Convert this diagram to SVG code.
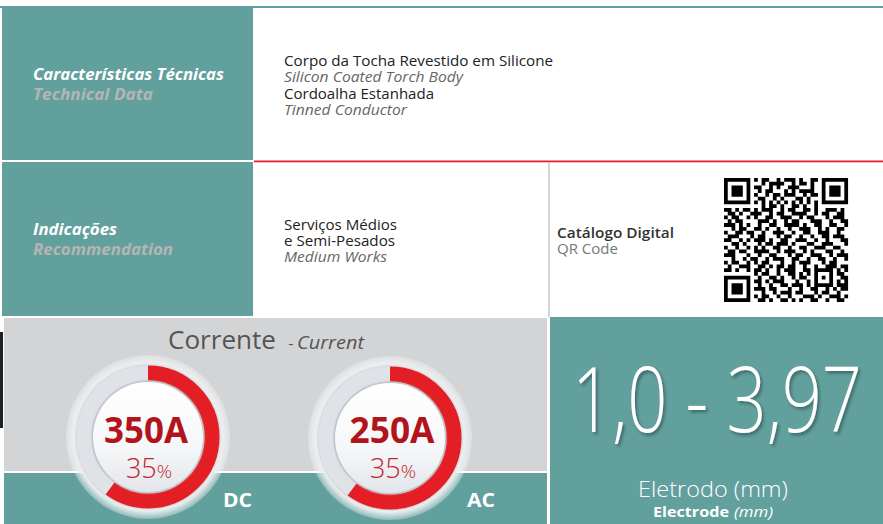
<svg xmlns="http://www.w3.org/2000/svg" width="883" height="524" viewBox="0 0 883 524">
<defs>
<style>
.teal{fill:#62a09e}
.hdr{font-family:"Open Sans","Noto Sans",sans-serif;font-weight:700;font-style:italic;font-size:16px}
.body{font-family:"Open Sans","Noto Sans",sans-serif;font-size:14.5px;fill:#222}
.bodyi{font-family:"Open Sans","Noto Sans",sans-serif;font-size:14.5px;font-style:italic;fill:#666}
.amp{font-family:"Open Sans","Noto Sans",sans-serif;font-weight:700;font-size:36px;fill:#b3141c;text-anchor:middle}
.pct{font-family:"Open Sans","Noto Sans",sans-serif;font-weight:300;font-size:27px;fill:#c0272d;text-anchor:middle}
.lbl{font-family:"Open Sans","Noto Sans",sans-serif;font-weight:700;font-size:19px;fill:#fff}
</style>
<radialGradient id="halo" cx="0.5" cy="0.5" r="0.5">
<stop offset="0.8" stop-color="#d8dadd"/>
<stop offset="0.9" stop-color="#eceef0"/>
<stop offset="1" stop-color="#f4f5f6" stop-opacity="0.3"/>
</radialGradient>
<linearGradient id="inner" x1="0" y1="0" x2="0" y2="1">
<stop offset="0" stop-color="#ffffff"/>
<stop offset="0.6" stop-color="#f6f7f8"/>
<stop offset="1" stop-color="#e2e5ea"/>
</linearGradient>
<filter id="sh" x="-10%" y="-10%" width="120%" height="130%">
<feDropShadow dx="2" dy="2.5" stdDeviation="1.5" flood-color="#23403f" flood-opacity="0.55"/>
</filter>
<filter id="soft" x="-20%" y="-20%" width="140%" height="140%">
<feGaussianBlur stdDeviation="1.2"/>
</filter>
</defs>

<rect width="883" height="524" fill="#ffffff"/>

<g id="row1">
<rect x="0" y="6" width="883" height="2" class="teal"/>
<rect x="2" y="6" width="251" height="154" class="teal"/>
<rect x="254" y="160.5" width="629" height="1.8" fill="#e4202a"/>
<text x="33" y="80" class="hdr" fill="#ffffff" textLength="191" lengthAdjust="spacingAndGlyphs">Características Técnicas</text>
<text x="33" y="100" class="hdr" fill="#b5b5b5" textLength="120" lengthAdjust="spacingAndGlyphs">Technical Data</text>
<text x="284" y="66" class="body" textLength="269" lengthAdjust="spacingAndGlyphs">Corpo da Tocha Revestido em Silicone</text>
<text x="284" y="82" class="bodyi" textLength="179" lengthAdjust="spacingAndGlyphs">Silicon Coated Torch Body</text>
<text x="284" y="99" class="body" textLength="150" lengthAdjust="spacingAndGlyphs">Cordoalha Estanhada</text>
<text x="284" y="115" class="bodyi" textLength="123" lengthAdjust="spacingAndGlyphs">Tinned Conductor</text>
</g>

<g id="row2">
<rect x="2" y="162" width="251" height="154" class="teal"/>
<rect x="548" y="162" width="1.8" height="155" fill="#d0d0d0"/>
<text x="33" y="235" class="hdr" fill="#ffffff" textLength="84" lengthAdjust="spacingAndGlyphs">Indicações</text>
<text x="33" y="255" class="hdr" fill="#b5b5b5" textLength="140" lengthAdjust="spacingAndGlyphs">Recommendation</text>
<text x="284" y="230" class="body" textLength="113" lengthAdjust="spacingAndGlyphs">Serviços Médios</text>
<text x="284" y="246" class="body" textLength="111" lengthAdjust="spacingAndGlyphs">e Semi-Pesados</text>
<text x="284" y="262" class="bodyi" textLength="103" lengthAdjust="spacingAndGlyphs">Medium Works</text>
</g>

<g id="qr-block">
<text x="557" y="238" font-family="'Open Sans','Noto Sans',sans-serif" font-weight="600" font-size="14.5px" fill="#333" textLength="117" lengthAdjust="spacingAndGlyphs">Catálogo Digital</text>
<text x="557" y="254" font-family="'Open Sans','Noto Sans',sans-serif" font-size="14.5px" fill="#777" textLength="61" lengthAdjust="spacingAndGlyphs">QR Code</text>
<g transform="translate(724,178) scale(3.76)">
<path fill="#000" d="M0 0h7v1h-7zM8 0h1v1h-1zM10 0h2v1h-2zM14 0h1v1h-1zM16 0h3v1h-3zM20 0h1v1h-1zM23 0h2v1h-2zM26 0h7v1h-7z
M0 1h1v1h-1zM6 1h1v1h-1zM10 1h1v1h-1zM12 1h4v1h-4zM18 1h1v1h-1zM20 1h2v1h-2zM23 1h1v1h-1zM26 1h1v1h-1zM32 1h1v1h-1z
M0 2h1v1h-1zM2 2h3v1h-3zM6 2h1v1h-1zM8 2h2v1h-2zM12 2h1v1h-1zM14 2h1v1h-1zM17 2h3v1h-3zM23 2h1v1h-1zM26 2h1v1h-1zM28 2h3v1h-3zM32 2h1v1h-1z
M0 3h1v1h-1zM2 3h3v1h-3zM6 3h1v1h-1zM9 3h1v1h-1zM11 3h2v1h-2zM16 3h1v1h-1zM18 3h1v1h-1zM20 3h4v1h-4zM26 3h1v1h-1zM28 3h3v1h-3zM32 3h1v1h-1z
M0 4h1v1h-1zM2 4h3v1h-3zM6 4h1v1h-1zM8 4h1v1h-1zM11 4h1v1h-1zM13 4h2v1h-2zM16 4h3v1h-3zM21 4h1v1h-1zM23 4h2v1h-2zM26 4h1v1h-1zM28 4h3v1h-3zM32 4h1v1h-1z
M0 5h1v1h-1zM6 5h1v1h-1zM9 5h2v1h-2zM13 5h1v1h-1zM15 5h1v1h-1zM19 5h2v1h-2zM22 5h1v1h-1zM26 5h1v1h-1zM32 5h1v1h-1z
M0 6h7v1h-7zM8 6h1v1h-1zM10 6h1v1h-1zM12 6h1v1h-1zM14 6h1v1h-1zM16 6h1v1h-1zM18 6h1v1h-1zM20 6h1v1h-1zM22 6h1v1h-1zM24 6h1v1h-1zM26 6h7v1h-7z
M10 7h1v1h-1zM12 7h2v1h-2zM15 7h1v1h-1zM18 7h2v1h-2zM21 7h1v1h-1zM24 7h1v1h-1z
M0 8h2v1h-2zM3 8h1v1h-1zM5 8h2v1h-2zM8 8h1v1h-1zM10 8h3v1h-3zM15 8h1v1h-1zM17 8h2v1h-2zM21 8h2v1h-2zM24 8h1v1h-1zM27 8h3v1h-3zM31 8h1v1h-1z
M1 9h2v1h-2zM4 9h1v1h-1zM7 9h3v1h-3zM12 9h1v1h-1zM14 9h2v1h-2zM18 9h4v1h-4zM24 9h1v1h-1zM26 9h2v1h-2zM30 9h2v1h-2z
M0 10h1v1h-1zM2 10h2v1h-2zM6 10h1v1h-1zM8 10h1v1h-1zM11 10h2v1h-2zM15 10h3v1h-3zM20 10h1v1h-1zM22 10h2v1h-2zM27 10h1v1h-1zM29 10h3v1h-3z
M1 11h1v1h-1zM3 11h2v1h-2zM9 11h3v1h-3zM13 11h1v1h-1zM16 11h1v1h-1zM18 11h2v1h-2zM23 11h3v1h-3zM28 11h1v1h-1zM31 11h2v1h-2z
M0 12h3v1h-3zM4 12h1v1h-1zM6 12h1v1h-1zM9 12h1v1h-1zM12 12h2v1h-2zM16 12h4v1h-4zM21 12h1v1h-1zM24 12h2v1h-2zM28 12h2v1h-2zM32 12h1v1h-1z
M2 13h1v1h-1zM4 13h2v1h-2zM8 13h2v1h-2zM11 13h1v1h-1zM14 13h1v1h-1zM17 13h1v1h-1zM20 13h3v1h-3zM25 13h1v1h-1zM27 13h1v1h-1zM30 13h2v1h-2z
M0 14h1v1h-1zM3 14h2v1h-2zM6 14h2v1h-2zM10 14h1v1h-1zM13 14h3v1h-3zM18 14h1v1h-1zM21 14h2v1h-2zM25 14h3v1h-3zM30 14h1v1h-1z
M1 15h3v1h-3zM7 15h1v1h-1zM9 15h2v1h-2zM14 15h1v1h-1zM16 15h2v1h-2zM20 15h1v1h-1zM23 15h1v1h-1zM26 15h2v1h-2zM29 15h3v1h-3z
M0 16h2v1h-2zM4 16h1v1h-1zM6 16h1v1h-1zM8 16h3v1h-3zM12 16h1v1h-1zM15 16h2v1h-2zM19 16h3v1h-3zM24 16h1v1h-1zM27 16h1v1h-1zM31 16h2v1h-2z
M2 17h2v1h-2zM5 17h1v1h-1zM9 17h1v1h-1zM11 17h2v1h-2zM14 17h3v1h-3zM18 17h1v1h-1zM22 17h2v1h-2zM26 17h3v1h-3zM32 17h1v1h-1z
M0 18h1v1h-1zM3 18h1v1h-1zM6 18h1v1h-1zM8 18h1v1h-1zM10 18h1v1h-1zM13 18h2v1h-2zM17 18h1v1h-1zM20 18h2v1h-2zM24 18h3v1h-3zM29 18h2v1h-2z
M1 19h2v1h-2zM4 19h2v1h-2zM8 19h4v1h-4zM14 19h1v1h-1zM16 19h3v1h-3zM21 19h1v1h-1zM23 19h1v1h-1zM27 19h2v1h-2zM31 19h1v1h-1z
M0 20h3v1h-3zM6 20h1v1h-1zM9 20h1v1h-1zM12 20h2v1h-2zM17 20h1v1h-1zM19 20h2v1h-2zM23 20h3v1h-3zM28 20h1v1h-1zM30 20h3v1h-3z
M2 21h1v1h-1zM5 21h1v1h-1zM7 21h2v1h-2zM11 21h1v1h-1zM13 21h3v1h-3zM18 21h2v1h-2zM22 21h1v1h-1zM25 21h2v1h-2zM29 21h1v1h-1zM32 21h1v1h-1z
M0 22h1v1h-1zM2 22h2v1h-2zM6 22h1v1h-1zM8 22h1v1h-1zM10 22h2v1h-2zM15 22h1v1h-1zM18 22h1v1h-1zM20 22h3v1h-3zM26 22h1v1h-1zM28 22h2v1h-2z
M1 23h1v1h-1zM4 23h3v1h-3zM9 23h2v1h-2zM12 23h1v1h-1zM14 23h2v1h-2zM17 23h2v1h-2zM21 23h1v1h-1zM24 23h1v1h-1zM27 23h3v1h-3zM31 23h2v1h-2z
M0 24h2v1h-2zM3 24h1v1h-1zM6 24h1v1h-1zM8 24h2v1h-2zM11 24h1v1h-1zM14 24h1v1h-1zM16 24h3v1h-3zM21 24h2v1h-2zM24 24h5v1h-5zM30 24h1v1h-1zM32 24h1v1h-1z
M8 25h1v1h-1zM10 25h2v1h-2zM14 25h1v1h-1zM17 25h2v1h-2zM20 25h1v1h-1zM22 25h1v1h-1zM24 25h1v1h-1zM28 25h1v1h-1zM30 25h2v1h-2z
M0 26h7v1h-7zM9 26h1v1h-1zM12 26h2v1h-2zM15 26h1v1h-1zM18 26h1v1h-1zM20 26h2v1h-2zM24 26h1v1h-1zM26 26h1v1h-1zM28 26h1v1h-1zM31 26h2v1h-2z
M0 27h1v1h-1zM6 27h1v1h-1zM8 27h2v1h-2zM11 27h1v1h-1zM13 27h3v1h-3zM19 27h1v1h-1zM22 27h1v1h-1zM24 27h1v1h-1zM28 27h1v1h-1zM30 27h1v1h-1zM32 27h1v1h-1z
M0 28h1v1h-1zM2 28h3v1h-3zM6 28h1v1h-1zM9 28h1v1h-1zM12 28h1v1h-1zM15 28h2v1h-2zM18 28h3v1h-3zM22 28h1v1h-1zM24 28h5v1h-5zM30 28h3v1h-3z
M0 29h1v1h-1zM2 29h3v1h-3zM6 29h1v1h-1zM8 29h3v1h-3zM12 29h2v1h-2zM17 29h1v1h-1zM20 29h1v1h-1zM23 29h2v1h-2zM27 29h1v1h-1zM29 29h1v1h-1zM31 29h2v1h-2z
M0 30h1v1h-1zM2 30h3v1h-3zM6 30h1v1h-1zM10 30h1v1h-1zM13 30h1v1h-1zM15 30h3v1h-3zM19 30h2v1h-2zM24 30h1v1h-1zM26 30h2v1h-2zM30 30h1v1h-1z
M0 31h1v1h-1zM6 31h1v1h-1zM8 31h1v1h-1zM10 31h2v1h-2zM14 31h1v1h-1zM17 31h1v1h-1zM21 31h3v1h-3zM25 31h1v1h-1zM28 31h3v1h-3zM32 31h1v1h-1z
M0 32h7v1h-7zM9 32h2v1h-2zM12 32h1v1h-1zM15 32h2v1h-2zM18 32h1v1h-1zM20 32h1v1h-1zM23 32h2v1h-2zM27 32h1v1h-1zM30 32h2v1h-2z"/>
</g>
</g>

<g id="current-panel">
<rect x="0" y="332" width="3" height="96" fill="#1c2222"/>
<rect x="4" y="318" width="543" height="153" fill="#d3d4d6"/>
<rect x="4" y="473" width="543" height="51" class="teal"/>
<text x="168" y="349" font-family="'Open Sans','Noto Sans',sans-serif" font-size="26px" fill="#555"><tspan textLength="108" lengthAdjust="spacingAndGlyphs">Corrente</tspan><tspan x="284" font-size="16px"> - </tspan><tspan x="297" font-size="19px" font-style="italic" textLength="67" lengthAdjust="spacingAndGlyphs">Current</tspan></text>
<text x="223" y="507" class="lbl" textLength="29" lengthAdjust="spacingAndGlyphs">DC</text>
<text x="467" y="507" class="lbl" textLength="28" lengthAdjust="spacingAndGlyphs">AC</text>
</g>

<g id="gauge-dc">
<circle cx="148" cy="437" r="82" fill="url(#halo)"/>
<circle cx="148" cy="437" r="72" fill="#c9cbcf" filter="url(#soft)"/>
<circle cx="148" cy="437" r="64" fill="none" stroke="#dfe2e6" stroke-width="15"/>
<circle cx="148" cy="437" r="64" fill="none" stroke="#e31e25" stroke-width="15" stroke-dasharray="241.3 500" transform="rotate(-90 148 437)"/>
<circle cx="148" cy="437" r="56" fill="#bfc2c7" filter="url(#soft)"/>
<circle cx="148" cy="437" r="55" fill="url(#inner)"/>
<text x="146" y="443" class="amp" textLength="84" lengthAdjust="spacingAndGlyphs">350A</text>
<text x="149" y="478" class="pct"><tspan>35</tspan><tspan font-size="19px">%</tspan></text>
</g>

<g id="gauge-ac">
<circle cx="390" cy="438" r="82" fill="url(#halo)"/>
<circle cx="390" cy="438" r="72" fill="#c9cbcf" filter="url(#soft)"/>
<circle cx="390" cy="438" r="64" fill="none" stroke="#dfe2e6" stroke-width="15"/>
<circle cx="390" cy="438" r="64" fill="none" stroke="#e31e25" stroke-width="15" stroke-dasharray="241.3 500" transform="rotate(-90 390 438)"/>
<circle cx="390" cy="438" r="56" fill="#bfc2c7" filter="url(#soft)"/>
<circle cx="390" cy="438" r="55" fill="url(#inner)"/>
<text x="392" y="443" class="amp" textLength="85" lengthAdjust="spacingAndGlyphs">250A</text>
<text x="393" y="478" class="pct"><tspan>35</tspan><tspan font-size="19px">%</tspan></text>
</g>

<g id="electrode-panel">
<rect x="550" y="317" width="333" height="207" class="teal"/>
<text x="572" y="432" font-family="'Open Sans','Noto Sans',sans-serif" font-weight="300" font-size="90px" fill="#ffffff" filter="url(#sh)" textLength="290" lengthAdjust="spacingAndGlyphs">1,0 - 3,97</text>
<text x="713" y="497" font-family="'Open Sans','Noto Sans',sans-serif" font-weight="300" font-size="22px" fill="#ffffff" text-anchor="middle" textLength="150" lengthAdjust="spacingAndGlyphs">Eletrodo (mm)</text>
<text x="653" y="517" font-family="'Open Sans','Noto Sans',sans-serif" font-size="14px" fill="#ffffff"><tspan font-weight="700" textLength="76" lengthAdjust="spacingAndGlyphs">Electrode</tspan><tspan x="734" font-style="italic" textLength="39" lengthAdjust="spacingAndGlyphs">(mm)</tspan></text>
</g>
</svg>
